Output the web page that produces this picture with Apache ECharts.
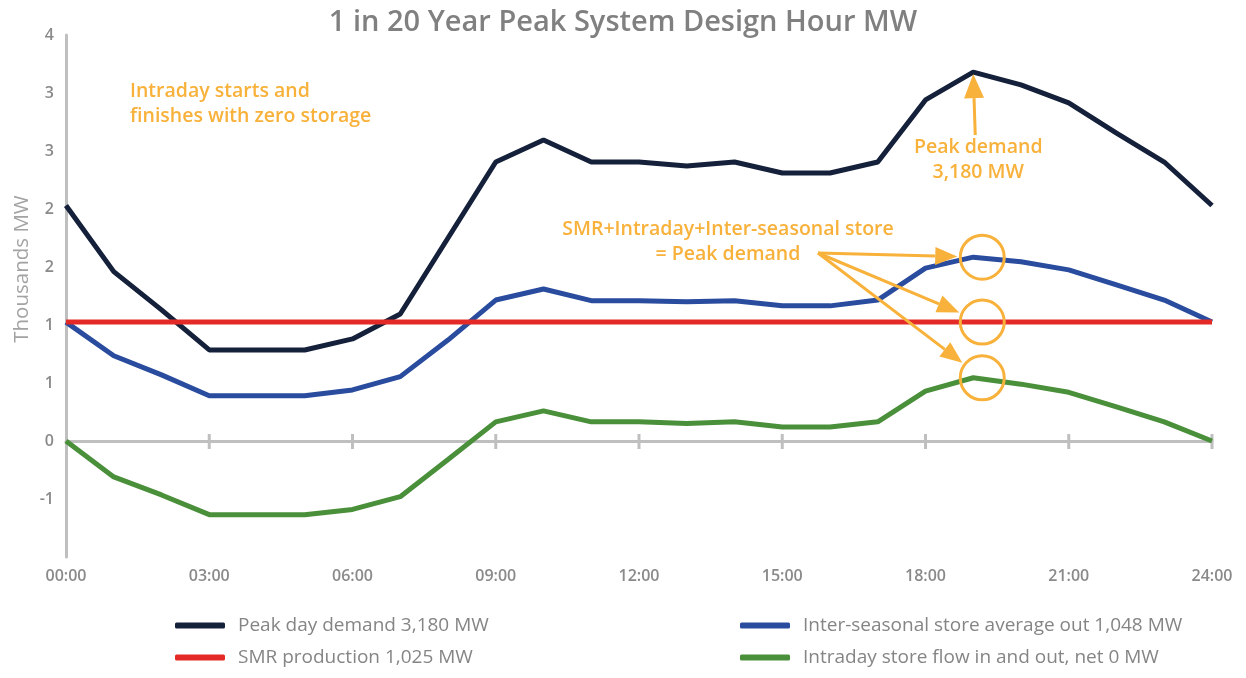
<!DOCTYPE html>
<html>
<head>
<meta charset="utf-8">
<script src="https://cdn.jsdelivr.net/npm/echarts@6/dist/echarts.min.js"></script>
<style>
  html, body { margin: 0; padding: 0; background: #fff; }
  #chart { width: 1246px; height: 678px; }
</style>
</head>
<body>
<div id="chart"></div>
<script>
var hours = ["00:00", "01:00", "02:00", "03:00", "04:00", "05:00", "06:00", "07:00", "08:00",
  "09:00", "10:00", "11:00", "12:00", "13:00", "14:00", "15:00", "16:00", "17:00", "18:00",
  "19:00", "20:00", "21:00", "22:00", "23:00", "24:00"];

// MW
var peakDemand = [2030, 1460, 1130, 785, 785, 785, 880, 1095, 1750, 2405, 2595, 2405, 2405,
  2370, 2405, 2310, 2310, 2405, 2940, 3180, 3070, 2915, 2655, 2405, 2030];
var interSeasonal = [1025, 735, 570, 390, 390, 390, 440, 555, 870, 1215, 1310, 1210, 1210,
  1200, 1210, 1165, 1165, 1215, 1490, 1585, 1545, 1475, 1345, 1215, 1025];
var smr = [1025, 1025, 1025, 1025, 1025, 1025, 1025, 1025, 1025, 1025, 1025, 1025, 1025,
  1025, 1025, 1025, 1025, 1025, 1025, 1025, 1025, 1025, 1025, 1025, 1025];
var intraday = [0, -310, -465, -635, -635, -635, -590, -480, -160, 165, 260, 165, 165,
  150, 165, 120, 120, 165, 430, 545, 490, 420, 295, 165, 0];

var names = [
  "Peak day demand 3,180 MW",
  "Inter-seasonal store average out 1,048 MW",
  "SMR production 1,025 MW",
  "Intraday store flow in and out, net 0 MW"
];
var colors = ["#15213A", "#2A4C9E", "#E42A27", "#4A8F3A"];
var orange = "#F8B13A";
var axisGrey = "#BFBFBF";
var font = "Open Sans";

var chart = echarts.init(document.getElementById("chart"));

function line(name, data, color, width) {
  return {
    name: name,
    type: "line",
    data: data,
    symbol: "none",
    color: color,
    lineStyle: { color: color, width: width },
    z: 3
  };
}

var option = {
  animation: false,
  textStyle: { fontFamily: font },
  title: {
    text: "1 in 20 Year Peak System Design Hour MW",
    left: "center",
    top: 3,
    textStyle: { fontFamily: font, fontSize: 29, fontWeight: 600, color: "#808080" }
  },
  legend: [
    {
      left: 170, top: 611, orient: "vertical", itemGap: 13,
      itemWidth: 50, itemHeight: 6, icon: "roundRect",
      data: [names[0], names[2]],
      textStyle: { fontFamily: font, fontSize: 19, color: "#858585", padding: [0, 0, 0, 8] }
    },
    {
      left: 735, top: 611, orient: "vertical", itemGap: 13,
      itemWidth: 50, itemHeight: 6, icon: "roundRect",
      data: [names[1], names[3]],
      textStyle: { fontFamily: font, fontSize: 19, color: "#858585", padding: [0, 0, 0, 8] }
    }
  ],
  grid: { left: 66, right: 34, top: 35, bottom: 121, outerBoundsMode: "none", containLabel: false },
  xAxis: [
    {
      type: "category", data: hours, boundaryGap: false, position: "bottom",
      axisLine: { onZero: true, lineStyle: { color: axisGrey, width: 3 } },
      axisTick: { show: false },
      axisLabel: { show: false },
      splitLine: { show: false }
    },
    {
      type: "category", data: hours, boundaryGap: false, position: "bottom",
      axisLine: { show: false, onZero: false },
      axisTick: { show: false },
      axisLabel: {
        interval: 2,
        margin: 11, fontSize: 16, fontWeight: 600, color: "#8A8A8A", fontFamily: font
      },
      splitLine: { show: false }
    }
  ],
  yAxis: {
    type: "value", min: -1000, max: 3500, interval: 500,
    axisLine: { show: true, onZero: false, lineStyle: { color: axisGrey, width: 3 } },
    axisTick: { show: false },
    splitLine: { show: false },
    axisLabel: {
      showMinLabel: false, margin: 12, fontSize: 16, fontWeight: 600, color: "#8A8A8A", fontFamily: font,
      formatter: function (v) {
        var k = v / 1000;
        var r = Math.sign(k) * Math.round(Math.abs(k));
        return r === 0 ? "0" : String(r);
      }
    }
  },
  series: [
    line(names[0], peakDemand, colors[0], 5),
    line(names[1], interSeasonal, colors[1], 5),
    line(names[2], smr, colors[2], 5),
    line(names[3], intraday, colors[3], 5)
  ]
};
chart.setOption(option);

// annotations anchored to the data points at the 19:00 peak
function px(seriesIndex, i, v) {
  return chart.convertToPixel({ seriesIndex: seriesIndex }, [i, v]);
}
function arrow(x1, y1, x2, y2, head, halfW) {
  var dx = x2 - x1, dy = y2 - y1;
  var len = Math.sqrt(dx * dx + dy * dy);
  var ux = dx / len, uy = dy / len;
  var bx = x2 - ux * head, by = y2 - uy * head;
  return [
    { type: "line", shape: { x1: x1, y1: y1, x2: bx, y2: by }, style: { stroke: orange, lineWidth: 3 }, z: 10 },
    {
      type: "polygon",
      shape: { points: [[x2, y2], [bx - uy * halfW, by + ux * halfW], [bx + uy * halfW, by - ux * halfW]] },
      style: { fill: orange }, z: 10
    }
  ];
}

var graphics = [];

// tick marks crossing the zero line every 3 hours
var zeroY = chart.convertToPixel({ yAxisIndex: 0 }, 0);
for (var i = 3; i < hours.length; i += 3) {
  var tx = chart.convertToPixel({ xAxisIndex: 0 }, i);
  graphics.push({
    type: "line", shape: { x1: tx, y1: zeroY - 7, x2: tx, y2: zeroY + 8 },
    style: { stroke: axisGrey, lineWidth: 3 }, z: 2
  });
}

var peakIdx = 19;
var pPeak = px(0, peakIdx, peakDemand[peakIdx]);
var pBlue = px(1, peakIdx, interSeasonal[peakIdx]);
var pRed = px(2, peakIdx, smr[peakIdx]);
var pGreen = px(3, peakIdx, intraday[peakIdx]);
var cOff = 9, rad = 22;
var circles = [pBlue, pRed, pGreen].map(function (p) {
  return [p[0] + cOff, p[1]];
});

var textStyleAnn = { fill: orange, fontSize: 19.5, fontWeight: 600, fontFamily: font, lineHeight: 25 };
graphics.push(
  {
    type: "text", x: 22, y: 269, rotation: Math.PI / 2,
    style: { text: "Thousands MW", fill: "#A3A3A3", fontSize: 20.5, fontFamily: font, textAlign: "center", textVerticalAlign: "middle" }
  },
  { type: "text", left: 130, top: 79, style: Object.assign({ text: "Intraday starts and\nfinishes with zero storage" }, textStyleAnn) },
  { type: "text", x: pPeak[0] + 5, y: 135, style: Object.assign({ text: "Peak demand\n3,180 MW", textAlign: "center" }, textStyleAnn) },
  { type: "text", x: 728, y: 217, style: Object.assign({ text: "SMR+Intraday+Inter-seasonal store\n= Peak demand", textAlign: "center" }, textStyleAnn) }
);
graphics = graphics.concat(arrow(pPeak[0] + 2, 135, pPeak[0], pPeak[1] + 2, 24, 10));
circles.forEach(function (c) {
  graphics.push({
    type: "circle", shape: { cx: c[0], cy: c[1], r: rad },
    style: { fill: "none", stroke: orange, lineWidth: 3 }, z: 10
  });
  var sx = 818, sy = 253;
  var dx = c[0] - sx, dy = c[1] - sy;
  var d = Math.sqrt(dx * dx + dy * dy);
  graphics = graphics.concat(arrow(sx, sy, c[0] - dx / d * (rad + 3), c[1] - dy / d * (rad + 3), 22, 9));
});
chart.setOption({ graphic: graphics });
</script>
</body>
</html>
